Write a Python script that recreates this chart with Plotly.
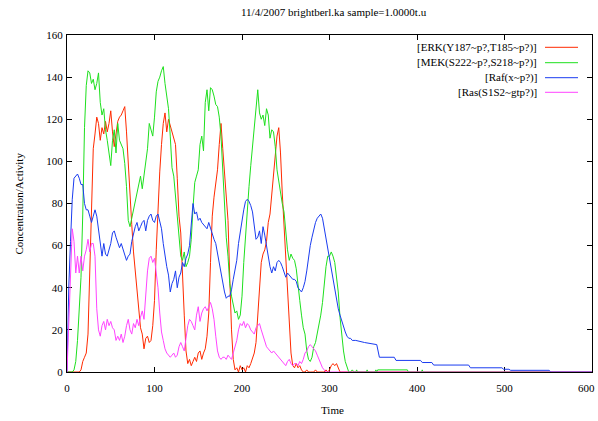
import plotly.graph_objects as go

TITLE = "11/4/2007 brightberl.ka sample=1.0000t.u"
X_LABEL = "Time"
Y_LABEL = "Concentration/Activity"
NAMES = ["[ERK(Y187~p?,T185~p?)]", "[MEK(S222~p?,S218~p?)]", "[Raf(x~p?)]", "[Ras(S1S2~gtp?)]"]
COLORS = ["#ff2a00", "#1ee01e", "#1a3cf0", "#ff44ff"]

# sampled time grid 0..330 step 2
TIME = list(range(0, 331, 2))

ERK = [0, 0, 0, 0, 0, 0, 0, 0, 1, 5,
       7, 9, 18, 48, 84, 106, 113, 121, 118, 110,
       116, 113, 119, 114, 118, 124, 114, 107, 113, 119,
       121, 122, 124, 126, 114, 98, 84, 70, 57, 47,
       37, 28, 21, 18, 11, 16, 17, 14, 15, 22,
       34, 58, 78, 95, 108, 118, 123, 114, 120, 117,
       114, 112, 108, 92, 74, 66, 44, 27, 10, 4,
       6, 3, 5, 7, 5, 9, 10, 6, 9, 11,
       17, 28, 52, 74, 83, 90, 96, 108, 118, 106,
       96, 86, 72, 45, 20, 6, 1, 2, 0, 3,
       1, 2, 0, 3, 2, 4, 7, 9, 14, 27,
       37, 52, 56, 58, 62, 71, 75, 84, 92, 100,
       112, 116, 104, 85, 70, 55, 40, 24, 9, 3,
       2, 4, 2, 3, 1, 0, 0, 1, 0, 0,
       0, 0, 1, 0, 0, 0, 0, 0, 1, 0,
       1, 3, 4, 3, 4, 2, 0, 0, 0, 0,
       0, 0, 0, 0, 0, 0]

MEK = [0, 0, 0, 0, 1, 5, 15, 28, 45, 75,
       116, 136, 143, 142, 137, 139, 134, 137, 142, 128,
       122, 125, 115, 110, 103, 98, 110, 115, 104, 118,
       110, 108, 106, 99, 88, 72, 69, 73, 77, 81,
       86, 90, 93, 87, 94, 101, 106, 118, 115, 112,
       121, 133, 138, 140, 143, 145, 137, 131, 125, 112,
       97, 93, 83, 74, 64, 55, 53, 57, 50, 52,
       55, 63, 78, 90, 93, 96, 108, 112, 105, 128,
       134, 124, 135, 134, 131, 127, 126, 121, 112, 96,
       80, 64, 55, 42, 36, 31, 28, 29, 25, 27,
       36, 52, 66, 80, 88, 98, 108, 118, 128, 134,
       123, 120, 122, 117, 125, 122, 111, 115, 114, 107,
       96, 90, 85, 80, 76, 66, 58, 53, 56, 54,
       53, 49, 40, 34, 27, 21, 18, 10, 6, 5,
       7, 12, 14, 18, 22, 27, 33, 42, 50, 55,
       55, 57, 55, 52, 45, 38, 26, 17, 10, 5,
       2, 0, 0, 1, 0, 0]

RAF = [0, 40, 62, 82, 92, 93, 94, 92, 89, 89,
       80, 77, 77, 74, 71, 74, 77, 74, 67, 61,
       55, 61, 56, 55, 58, 61, 66, 67, 64, 61,
       59, 61, 58, 55, 53, 55, 56, 62, 66, 69,
       71, 67, 69, 71, 72, 67, 72, 74, 75, 72,
       71, 74, 75, 72, 68, 61, 55, 50, 46, 38,
       42, 44, 48, 40, 45, 47, 52, 50, 54, 56,
       60, 70, 80, 75, 76, 72, 73, 71, 70, 69,
       68, 71, 68, 66, 63, 61, 56, 52, 47, 43,
       38, 35, 36, 36, 39, 44, 48, 53, 61, 67,
       72, 77, 81, 82, 81, 79, 76, 69, 63, 64,
       67, 61, 69, 65, 60, 54, 50, 47, 50, 48,
       52, 53, 52, 50, 47, 45, 47, 46, 45, 44,
       44, 43, 40, 39, 38, 40, 43, 48, 55, 60,
       64, 68, 71, 73, 74, 75, 73, 68, 63, 58,
       53, 48, 43, 38, 34, 30, 27, 24, 21, 19,
       17, 16, 16, 15, 15, 15]

RAS = [0, 20, 42, 68, 62, 47, 55, 47, 55, 48,
       55, 58, 63, 57, 61, 61, 55, 30, 20, 17,
       22, 24, 20, 25, 22, 24, 21, 20, 15, 17,
       15, 18, 14, 17, 22, 25, 20, 18, 23, 21,
       25, 22, 26, 29, 25, 36, 48, 54, 55, 52,
       54, 47, 40, 28, 19, 15, 11, 9, 8, 7,
       8, 9, 7, 8, 12, 14, 12, 10, 16, 22,
       25, 24, 22, 20, 27, 31, 24, 28, 30, 31,
       29, 31, 33, 30, 25, 17, 10, 7, 6, 7,
       7, 6, 8, 7, 6, 9, 12, 15, 20, 23,
       22, 24, 21, 23, 22, 20, 19, 18, 21, 22,
       23, 20, 17, 14, 12, 11, 10, 9, 10, 9,
       8, 7, 6, 5, 4, 3, 5, 6, 4, 3,
       4, 4, 3, 5, 4, 6, 9, 10, 12, 13,
       12, 11, 10, 8, 6, 4, 2, 1, 0, 0,
       0, 0, 0, 0, 0, 0, 0, 0, 0, 0,
       0, 0, 0, 0, 0, 0]

# tails after t=330
ERK_TAIL_T = [600]
ERK_TAIL_V = [0]
MEK_TAIL_T = [331, 332, 342, 343, 344, 352, 353, 354, 355, 389, 390, 405, 406, 407, 600]
MEK_TAIL_V = [1, 0, 0, 1, 0, 0, 1, 0, 1, 1, 0, 0, 1, 0, 0]
RAF_TAIL_T = [340, 354, 357, 374, 376, 404, 406, 417, 419, 459, 461, 497, 499, 505, 507, 551, 553, 600]
RAF_TAIL_V = [14, 13, 7, 7, 5.5, 5.5, 4.5, 4.5, 3.3, 3.3, 2, 2, 1.3, 1.3, 0.8, 0.8, 0, 0]
RAS_TAIL_T = [600]
RAS_TAIL_V = [0]

X_TICKS = [0, 100, 200, 300, 400, 500, 600]
X_TICK_TEXT = ["0", "100", "200", "300", "400", "500", "600"]
Y_TICKS = [0, 20, 40, 60, 80, 100, 120, 140, 160]

FONT = "Liberation Serif"

series = [
    (ERK, ERK_TAIL_T, ERK_TAIL_V),
    (MEK, MEK_TAIL_T, MEK_TAIL_V),
    (RAF, RAF_TAIL_T, RAF_TAIL_V),
    (RAS, RAS_TAIL_T, RAS_TAIL_V),
]

fig = go.Figure()
for (vals, tt, tv), name, col in zip(series, NAMES, COLORS):
    fig.add_trace(go.Scatter(x=TIME + tt, y=vals + tv, mode="lines", name=name,
                             line=dict(color=col, width=1), showlegend=False,
                             hoverinfo="skip"))

W, H = 598, 421
L, R, T, B = 67, 6, 35, 49
pw, ph = W - L - R, H - T - B

def px_x(p):
    return (p - L) / pw

def px_y(p):
    return (H - B - p) / ph

annotations = [
    dict(text=TITLE, xref="paper", yref="paper", x=px_x(334), y=px_y(12),
         xanchor="center", yanchor="middle", showarrow=False,
         font=dict(family=FONT, size=11, color="black")),
    dict(text=X_LABEL, xref="paper", yref="paper", x=px_x(332), y=px_y(410),
         xanchor="center", yanchor="middle", showarrow=False,
         font=dict(family=FONT, size=11, color="black")),
    dict(text=Y_LABEL, xref="paper", yref="paper", x=px_x(18), y=0.5,
         xanchor="center", yanchor="middle", showarrow=False, textangle=-90,
         font=dict(family=FONT, size=11, color="black")),
    # last x tick label, kept fully inside the page
    dict(text=X_TICK_TEXT[-1], xref="paper", yref="paper", x=px_x(597), y=px_y(388),
         xanchor="right", yanchor="middle", showarrow=False,
         font=dict(family=FONT, size=11, color="black")),
]
shapes = []
rows = [47.3, 62.7, 77.7, 92.3]
for name, col, ry in zip(NAMES, COLORS, rows):
    annotations.append(dict(text=name, xref="paper", yref="paper", x=px_x(539), y=px_y(ry),
                            xanchor="right", yanchor="middle", showarrow=False,
                            font=dict(family=FONT, size=11, color="black")))
    shapes.append(dict(type="line", xref="paper", yref="paper",
                       x0=px_x(545), x1=px_x(578), y0=px_y(ry), y1=px_y(ry),
                       line=dict(color=col, width=1)))

axis_common = dict(showgrid=False, zeroline=False, showline=True, linecolor="black",
                   linewidth=1, mirror="ticks", ticks="inside", ticklen=5,
                   tickcolor="black", tickwidth=1, automargin=False,
                   tickfont=dict(family=FONT, size=11, color="black"),
                   layer="below traces")

fig.update_layout(
    width=W, height=H,
    margin=dict(l=L, r=R, t=T, b=B, pad=0, autoexpand=False),
    paper_bgcolor="white", plot_bgcolor="white",
    xaxis=dict(range=[0, 600], tickvals=X_TICKS,
               ticktext=X_TICK_TEXT[:-1] + [""], ticklabelstandoff=6, **axis_common),
    yaxis=dict(range=[0, 160], tickvals=Y_TICKS, ticklabelstandoff=1, **axis_common),
    annotations=annotations, shapes=shapes,
    showlegend=False, hovermode=False,
)

fig.write_html("out.html", config={"displayModeBar": False, "staticPlot": True},
               post_script="document.body.style.margin='0';document.body.style.padding='0';document.body.style.overflow='hidden';")
